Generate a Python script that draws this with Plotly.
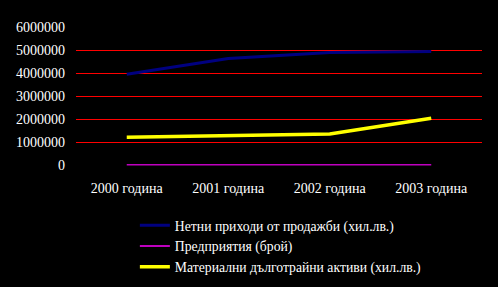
import plotly.graph_objects as go

categories = ["2000 година", "2001 година", "2002 година", "2003 година"]
net_sales = [3970000, 4650000, 4910000, 4960000]
enterprises = [22000, 23000, 24000, 25000]
fixed_assets = [1230000, 1300000, 1370000, 2050000]
y_ticks = [0, 1000000, 2000000, 3000000, 4000000, 5000000, 6000000]

FONT = "Liberation Serif"

fig = go.Figure()
fig.add_trace(go.Scatter(x=categories, y=net_sales, mode="lines",
                         name="Нетни приходи от продажби (хил.лв.)",
                         line=dict(color="#000080", width=3)))
fig.add_trace(go.Scatter(x=categories, y=enterprises, mode="lines",
                         name="Предприятия (брой)",
                         line=dict(color="#FF00FF", width=1.5)))
fig.add_trace(go.Scatter(x=categories, y=fixed_assets, mode="lines",
                         name="Материални дълготрайни активи (хил.лв.)",
                         line=dict(color="#FFFF00", width=3.5)))

half = 0.5 / 139
fig.update_layout(
    width=498, height=287,
    margin=dict(l=76, r=16, t=27, b=121, autoexpand=False),
    paper_bgcolor="black", plot_bgcolor="black",
    font=dict(family=FONT, size=14, color="white"),
    showlegend=True,
    legend=dict(x=0.145, y=-0.315, xanchor="left", yanchor="top",
                bgcolor="rgba(0,0,0,0)", font=dict(family=FONT, size=13.7, color="white"),
                itemwidth=30, tracegroupgap=0),
    xaxis=dict(showgrid=False, showline=False, zeroline=False, automargin=False,
               ticks="", ticklabelstandoff=12, range=[-0.5, 3.5],
               tickfont=dict(family=FONT, size=14, color="white")),
    yaxis=dict(range=[0, 6000000], tickvals=y_ticks, ticktext=[str(v) for v in y_ticks],
               domain=[half, 1 - half],
               showgrid=True, gridcolor="#FF0000", gridwidth=1, automargin=False,
               zeroline=True, zerolinecolor="black", showline=False,
               ticks="", ticklabelstandoff=10,
               tickfont=dict(family=FONT, size=14, color="white")),
)

fig.write_html("out.html")
